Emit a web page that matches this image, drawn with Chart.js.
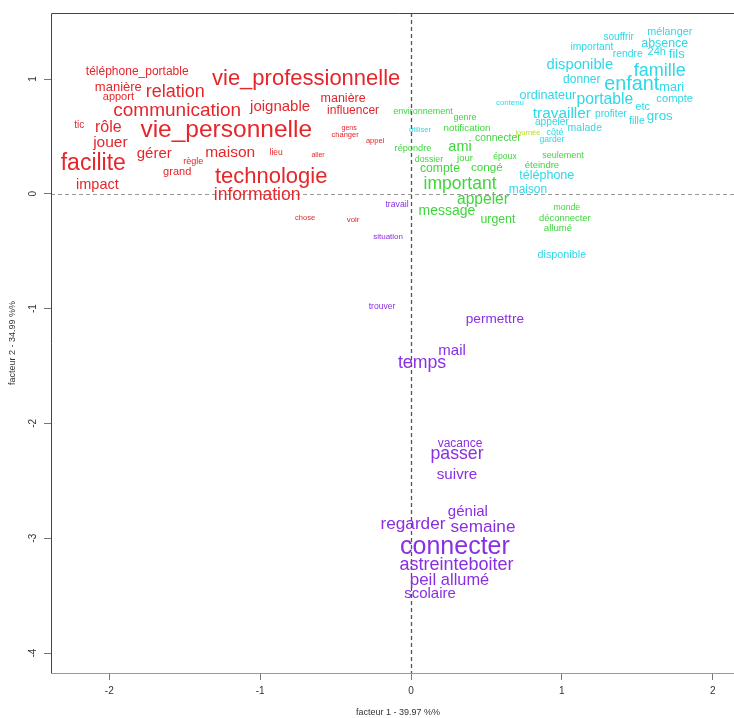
<!DOCTYPE html>
<html><head><meta charset="utf-8">
<script src="https://cdn.jsdelivr.net/npm/chart.js@4"></script>
<style>html,body{margin:0;padding:0;overflow:hidden;background:#fff}#wrap{width:750px;height:718px;position:relative}</style>
</head><body><div id="wrap"><canvas id="c"></canvas></div>
<script>
// ---- data (factor coordinates) ----
const redWords = ['téléphone_portable','manière','apport','relation','vie_professionnelle','communication','joignable','manière','influencer','tic','rôle','vie_personnelle','jouer','facilite','gérer','règle','maison','grand','lieu','gens','changer','appel','aller','impact','technologie','information','chose','voir'];
const redX = [-1.815,-1.94,-1.94,-1.563,-0.695,-1.55,-0.868,-0.45,-0.384,-2.199,-2.007,-1.225,-1.993,-2.106,-1.702,-1.444,-1.199,-1.55,-0.894,-0.41,-0.437,-0.238,-0.616,-2.079,-0.927,-1.02,-0.702,-0.384];
const redY = [1.07,0.93,0.85,0.887,1.009,0.73,0.757,0.835,0.73,0.6,0.583,0.557,0.452,0.27,0.348,0.287,0.365,0.191,0.357,0.574,0.513,0.461,0.339,0.078,0.148,-0.009,-0.209,-0.226];
const redWeight = [12,13,11,18,22,19,15,12.5,12,10,16,24.5,15.5,23,15,9,15.5,11,8.5,7,7.5,7.5,7,14.5,22,17.5,7.5,8];

const greenWords = ['environnement','genre','notification','connecter','répondre','ami','dossier','jour','époux','seulement','compte','congé','éteindre','important','appeler','message','urgent','monde','déconnecter','allumé'];
const greenX = [0.079,0.358,0.371,0.576,0.013,0.325,0.119,0.358,0.623,1.007,0.192,0.503,0.868,0.325,0.477,0.238,0.576,1.033,1.02,0.974];
const greenY = [0.722,0.67,0.574,0.487,0.4,0.409,0.304,0.313,0.33,0.339,0.226,0.226,0.252,0.087,-0.052,-0.148,-0.226,-0.122,-0.209,-0.296];
const greenWeight = [9,9,9.8,10.4,9.2,14.5,8.8,9.6,8.6,9,12.2,11.7,9.5,17.5,15.6,14,12.3,8.7,9.4,9.6];

const limeWords = ['journée'];
const limeX = [0.775];
const limeY = [0.53];
const limeWeight = [7.5];

const cyanWords = ['utiliser','côté','garder','téléphone','maison','disponible','mélanger','souffrir','absence','important','rendre','24h','fils','disponible','famille','donner','enfant','mari','ordinateur','portable','compte','contenu','etc','travailler','profiter','gros','fille','appeler','malade'];
const cyanX = [0.06,0.954,0.934,0.9,0.775,1.0,1.715,1.377,1.682,1.199,1.437,1.629,1.762,1.119,1.649,1.132,1.464,1.728,0.907,1.285,1.748,0.656,1.536,1.0,1.325,1.649,1.497,0.934,1.152];
const cyanY = [0.557,0.539,0.47,0.165,0.035,-0.53,1.409,1.365,1.313,1.278,1.217,1.235,1.217,1.13,1.07,1.0,0.957,0.93,0.861,0.826,0.826,0.791,0.757,0.704,0.696,0.678,0.635,0.626,0.574];
const cyanWeight = [7.7,9,8.6,12.5,11.9,10.8,10.8,10,12.4,10.3,10.4,11,13,14.8,18,12,19.8,12.7,12.6,15.7,11.2,7.9,11.2,15.4,10.2,13.4,10.5,10.2,10.5];

const purpleWords = ['travail','situation','trouver','permettre','mail','temps','vacance','passer','suivre','génial','regarder','semaine','connecter','astreinte','boiter','peil','allumé','scolaire'];
const purpleX = [-0.093,-0.152,-0.192,0.556,0.272,0.073,0.325,0.305,0.305,0.377,0.013,0.477,0.291,0.152,0.53,0.079,0.358,0.126];
const purpleY = [-0.096,-0.374,-0.983,-1.087,-1.365,-1.47,-2.174,-2.261,-2.443,-2.765,-2.878,-2.904,-3.07,-3.226,-3.226,-3.365,-3.365,-3.478];
const purpleWeight = [8.7,8,8.6,13.6,15,17.7,12,17.7,15.2,15,17.2,17.2,25,18,18,17,16.4,15];

const xTicks = [-2,-1,0,1,2];
const yTicks = [1,0,-1,-2,-3,-4];
const xTitle = 'facteur 1 - 39.97 %%';
const yTitle = 'facteur 2 - 34.99 %%';

// ---- chart ----
const FONT = '"Liberation Sans", Arial, sans-serif';
function makeSet(label, words, xs, ys, ws, color){
  return {label, data: words.map((w,i)=>({x:xs[i], y:ys[i]})), words, weights: ws,
    wordColor: color, pointRadius:0, pointHoverRadius:0, showLine:false};
}
const wordPlugin = {
  id:'wordPlugin',
  beforeDatasetsDraw(chart){
    const {ctx, chartArea:a, scales:{x,y}} = chart;
    ctx.save();
    ctx.lineWidth = 1;
    // horizontal dashed zero line
    ctx.strokeStyle = '#9a9a9a';
    ctx.setLineDash([4,3]);
    const py = Math.round(y.getPixelForValue(0)) + 0.5;
    ctx.beginPath(); ctx.moveTo(a.left, py); ctx.lineTo(a.right, py); ctx.stroke();
    // vertical dashed zero line
    ctx.strokeStyle = '#555';
    ctx.lineWidth = 1.3;
    ctx.setLineDash([4,3]);
    const px = Math.round(x.getPixelForValue(0)) + 0.5;
    ctx.beginPath(); ctx.moveTo(px, a.top); ctx.lineTo(px, a.bottom); ctx.stroke();
    ctx.restore();
  },
  afterDatasetsDraw(chart){
    const ctx = chart.ctx;
    ctx.save();
    ctx.textAlign = 'center';
    ctx.textBaseline = 'alphabetic';
    chart.data.datasets.forEach((d, di) => {
      const meta = chart.getDatasetMeta(di);
      ctx.fillStyle = d.wordColor;
      meta.data.forEach((el, i) => {
        const s = d.weights[i];
        ctx.font = s + 'px ' + FONT;
        ctx.fillText(d.words[i], el.x, el.y + 0.3 * s);
      });
    });
    ctx.restore();
  },
  afterDraw(chart){
    const {ctx, chartArea:a, scales:{y}} = chart;
    ctx.save();
    ctx.lineWidth = 1;
    ctx.strokeStyle = '#444';
    ctx.beginPath();
    ctx.moveTo(a.left + 0.5, a.bottom); ctx.lineTo(a.left + 0.5, a.top + 0.5); ctx.lineTo(a.right, a.top + 0.5);
    ctx.stroke();
    ctx.strokeStyle = '#999';
    ctx.beginPath(); ctx.moveTo(a.left, a.bottom + 0.5); ctx.lineTo(a.right, a.bottom + 0.5); ctx.stroke();
    // rotated y tick labels
    ctx.fillStyle = '#333';
    ctx.font = '10px ' + FONT;
    ctx.textAlign = 'center'; ctx.textBaseline = 'middle';
    yTicks.forEach(v => {
      const py = y.getPixelForValue(v);
      ctx.save(); ctx.translate(33, py); ctx.rotate(-Math.PI/2);
      ctx.fillText(String(v), 0, 0); ctx.restore();
    });
    // axis titles
    ctx.font = '9px ' + FONT;
    ctx.fillStyle = '#333';
    ctx.save(); ctx.translate(13, (a.top + a.bottom)/2); ctx.rotate(-Math.PI/2);
    ctx.fillText(yTitle, 0, 0); ctx.restore();
    ctx.fillText(xTitle, (a.left + a.right)/2, 713);
    ctx.restore();
  }
};

new Chart(document.getElementById('c'), {
  type: 'scatter',
  data: { datasets: [
    makeSet('red', redWords, redX, redY, redWeight, '#e5262b'),
    makeSet('green', greenWords, greenX, greenY, greenWeight, '#3fd63c'),
    makeSet('lime', limeWords, limeX, limeY, limeWeight, '#b9e02a'),
    makeSet('cyan', cyanWords, cyanX, cyanY, cyanWeight, '#2fd8e6'),
    makeSet('purple', purpleWords, purpleX, purpleY, purpleWeight, '#8a2fe2')
  ]},
  options: {
    animation: false, responsive: true, maintainAspectRatio: false,
    layout: { padding: { top: 13, right: 5, bottom: 0, left: 0 } },
    plugins: { legend: { display: false }, tooltip: { enabled: false } },
    events: [],
    scales: {
      x: { type: 'linear', min: -2.3865, max: 2.214,
        afterBuildTicks: s => { s.ticks = xTicks.map(v => ({value: v})); },
        afterFit: s => { s.height = 45; },
        grid: { drawOnChartArea: false, drawTicks: true, tickLength: 7, color: '#777' },
        border: { display: false },
        ticks: { font: { family: FONT, size: 10 }, color: '#333', padding: 5, maxRotation: 0, autoSkip: false }
      },
      y: { type: 'linear', min: -4.174, max: 1.575,
        afterBuildTicks: s => { s.ticks = yTicks.map(v => ({value: v})); },
        afterFit: s => { s.width = 51; },
        grid: { drawOnChartArea: false, drawTicks: true, tickLength: 7, color: '#777' },
        border: { display: false },
        ticks: { font: { family: FONT, size: 10 }, color: 'rgba(0,0,0,0)', padding: 4, autoSkip: false }
      }
    }
  },
  plugins: [wordPlugin]
});
</script>
</body></html>
